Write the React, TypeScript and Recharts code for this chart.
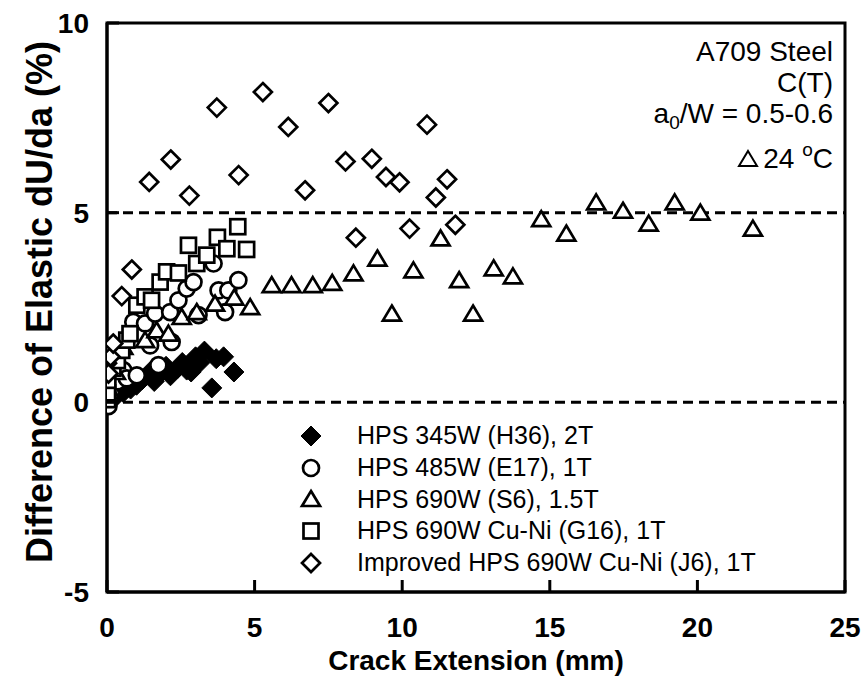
import { ScatterChart, Scatter, XAxis, YAxis, ReferenceLine, ReferenceArea, Label } from 'recharts'

const FONT = '"Liberation Sans", Arial, sans-serif'

const xTicks = [0, 5, 10, 15, 20, 25]
const yTicks = [-5, 0, 5, 10]

// HPS 345W (H36), 2T
const h36: [number, number][] = [
  [0.1, 0.1], [0.3, 0.15], [0.55, 0.26], [0.8, 0.35], [1.0, 0.45], [1.2, 0.6], [1.45, 0.8], [1.6, 0.55],
  [1.8, 0.75], [2.0, 0.95], [2.15, 0.7], [2.4, 0.9], [2.55, 1.05], [2.7, 0.85], [2.85, 0.8], [3.0, 1.2],
  [3.15, 1.05], [3.3, 1.35], [3.55, 0.38], [3.7, 1.15], [3.95, 1.2], [4.3, 0.8],
]
// HPS 485W (E17), 1T
const e17: [number, number][] = [
  [0.05, -0.1], [0.15, 0.2], [0.35, 0.55], [0.55, 0.85], [0.67, 0.63], [1.01, 0.71], [1.74, 0.98],
  [0.89, 2.12], [1.29, 2.08], [1.46, 1.5], [1.63, 2.34], [2.14, 2.38], [2.19, 1.59], [2.42, 2.69],
  [2.7, 3.0], [2.93, 3.17], [3.1, 2.3], [3.61, 3.66], [3.78, 2.95], [4.0, 2.38], [4.11, 2.95], [4.45, 3.22],
]
// HPS 690W (S6), 1.5T
const s6: [number, number][] = [
  [0.1, 0.3], [0.3, 0.8], [0.55, 1.46], [1.29, 1.64], [1.68, 1.9], [2.08, 1.81], [2.53, 2.25], [3.04, 2.38],
  [3.66, 2.6], [4.31, 2.76], [4.85, 2.51], [5.58, 3.09], [6.25, 3.09], [6.97, 3.09], [7.63, 3.15],
  [8.35, 3.4], [9.16, 3.79], [9.65, 2.34], [10.38, 3.48], [11.3, 4.32], [11.93, 3.22], [12.4, 2.34],
  [13.1, 3.53], [13.75, 3.32], [14.71, 4.83], [15.56, 4.45], [16.57, 5.27], [17.48, 5.05], [18.35, 4.71],
  [19.23, 5.27], [20.1, 5.0], [21.88, 4.58],
]
// HPS 690W Cu-Ni (G16), 1T
const g16: [number, number][] = [
  [0.02, 0.07], [0.02, 0.25], [0.03, 0.58], [0.2, 0.9], [0.35, 1.1], [0.5, 1.37], [0.67, 1.64], [0.78, 1.81],
  [1.01, 2.56], [1.29, 2.78], [1.51, 2.69], [1.8, 3.17], [2.02, 3.44], [2.42, 3.41], [2.76, 4.14],
  [3.04, 3.66], [3.38, 3.88], [3.74, 4.35], [4.06, 4.05], [4.43, 4.63], [4.73, 4.03],
]
// Improved HPS 690W Cu-Ni (J6), 1T
const j6: [number, number][] = [
  [0.0, 1.03], [0.05, 0.76], [0.0, 1.4], [0.12, 1.2], [0.21, 1.55], [0.5, 2.8], [0.84, 3.5], [1.43, 5.81],
  [2.16, 6.4], [2.79, 5.45], [3.72, 7.77], [4.46, 5.99], [5.28, 8.18], [6.14, 7.26], [6.71, 5.59],
  [7.5, 7.89], [8.08, 6.35], [8.43, 4.34], [8.97, 6.42], [9.45, 5.94], [9.91, 5.8], [10.25, 4.58],
  [10.84, 7.32], [11.14, 5.4], [11.52, 5.88], [11.8, 4.68],
]

const toPts = (a: [number, number][]) => a.map(([x, y]) => ({ x, y }))

const fDiamond = (p: any) => (
  <path d={`M${p.cx},${p.cy - 10}L${p.cx + 10},${p.cy}L${p.cx},${p.cy + 10}L${p.cx - 10},${p.cy}Z`} fill="#000" stroke="#000" strokeWidth={1} />
)
const oDiamond = (p: any) => (
  <path d={`M${p.cx},${p.cy - 9}L${p.cx + 9},${p.cy}L${p.cx},${p.cy + 9}L${p.cx - 9},${p.cy}Z`} fill="#fff" stroke="#000" strokeWidth={2.7} />
)
const oCircle = (p: any) => <circle cx={p.cx} cy={p.cy} r={8} fill="#fff" stroke="#000" strokeWidth={2.7} />
const oSquare = (p: any) => <rect x={p.cx - 7.5} y={p.cy - 7.5} width={15} height={15} fill="#fff" stroke="#000" strokeWidth={2.7} />
const oTriangle = (p: any) => (
  <path d={`M${p.cx},${p.cy - 8}L${p.cx + 9},${p.cy + 7}L${p.cx - 9},${p.cy + 7}Z`} fill="#fff" stroke="#000" strokeWidth={2.7} />
)

const series = [
  { name: 'HPS 345W (H36), 2T', data: h36, shape: fDiamond },
  { name: 'HPS 485W (E17), 1T', data: e17, shape: oCircle },
  { name: 'HPS 690W (S6), 1.5T', data: s6, shape: oTriangle },
  { name: 'HPS 690W Cu-Ni (G16), 1T', data: g16, shape: oSquare },
  { name: 'Improved HPS 690W Cu-Ni (J6), 1T', data: j6, shape: oDiamond },
]

const XTick = (p: any) => (
  <g>
    <line x1={p.x} x2={p.x} y1={p.y} y2={p.y - 12} stroke="#000" strokeWidth={3} />
    <text x={p.x} y={p.y + 45} textAnchor="middle" fontWeight="bold" fontSize={28} fontFamily={FONT} fill="#000">
      {p.payload.value}
    </text>
  </g>
)

const YTick = (p: any) => (
  <g>
    <line x1={p.x} x2={p.x + 12} y1={p.y} y2={p.y} stroke="#000" strokeWidth={3} />
    <text x={p.x - 18} y={p.y + 10} textAnchor="end" fontWeight="bold" fontSize={28} fontFamily={FONT} fill="#000">
      {p.payload.value}
    </text>
  </g>
)

function ChartLegend() {
  return (
    <div style={{ position: 'absolute', left: 287, top: 420, fontFamily: FONT, fontSize: 25, color: '#000' }}>
      {series.map((s) => (
        <div key={s.name} style={{ display: 'flex', alignItems: 'center', height: 31.7 }}>
          <svg width={48} height={28} style={{ marginRight: 22 }}>
            {s.shape({ cx: 24, cy: 14 })}
          </svg>
          <span style={{ whiteSpace: 'nowrap' }}>{s.name}</span>
        </div>
      ))}
    </div>
  )
}

export default function App() {
  return (
    <div style={{ position: 'absolute', left: 0, top: 0, width: 865, height: 683, background: '#fff' }}>
      <ScatterChart width={865} height={683} margin={{ top: 23, right: 20, bottom: 0, left: 0 }}>
        <XAxis
          type="number"
          dataKey="x"
          domain={[0, 25]}
          ticks={xTicks}
          tickSize={0}
          tickMargin={0}
          tick={XTick}
          height={91}
          axisLine={{ stroke: '#000', strokeWidth: 3 }}
          allowDataOverflow
        >
          <Label
            content={() => (
              <text x={476} y={670} textAnchor="middle" fontWeight="bold" fontSize={28} fontFamily={FONT} fill="#000">
                Crack Extension (mm)
              </text>
            )}
          />
        </XAxis>
        <YAxis
          type="number"
          dataKey="y"
          domain={[-5, 10]}
          ticks={yTicks}
          tickSize={0}
          tickMargin={0}
          tick={YTick}
          width={107}
          axisLine={{ stroke: '#000', strokeWidth: 3 }}
          allowDataOverflow
        >
          <Label
            content={() => (
              <text
                x={0}
                y={0}
                transform="translate(52 302) rotate(-90)"
                textAnchor="middle"
                fontWeight="bold"
                fontSize={36}
                fontFamily={FONT}
                fill="#000"
              >
                Difference of Elastic dU/da (%)
              </text>
            )}
          />
        </YAxis>
        <ReferenceArea x1={0} x2={25} y1={-5} y2={10} fill="#fff" fillOpacity={0} stroke="#000" strokeWidth={3} ifOverflow="visible" />
        <ReferenceLine y={5} stroke="#000" strokeWidth={3} strokeDasharray="10 6" />
        <ReferenceLine y={0} stroke="#000" strokeWidth={3} strokeDasharray="10 6" />
        {series.map((s) => (
          <Scatter key={s.name} name={s.name} data={toPts(s.data)} shape={s.shape} isAnimationActive={false} />
        ))}
      </ScatterChart>
      <ChartLegend />
      <div
        style={{
          position: 'absolute',
          right: 32,
          top: 36,
          textAlign: 'right',
          fontFamily: FONT,
          fontSize: 28,
          lineHeight: '31px',
          color: '#000',
        }}
      >
        <div>A709 Steel</div>
        <div>C(T)</div>
        <div>
          a<sub style={{ fontSize: 19, verticalAlign: -6, lineHeight: 0 }}>0</sub>/W = 0.5-0.6
        </div>
        <div style={{ marginTop: 14 }}>
          <svg width={22} height={20} style={{ marginRight: 4 }}>
            <path d="M11,3L20,18L2,18Z" fill="none" stroke="#000" strokeWidth={2} />
          </svg>
          24 <sup style={{ fontSize: 19, verticalAlign: 12, lineHeight: 0 }}>o</sup>C
        </div>
      </div>
    </div>
  )
}
